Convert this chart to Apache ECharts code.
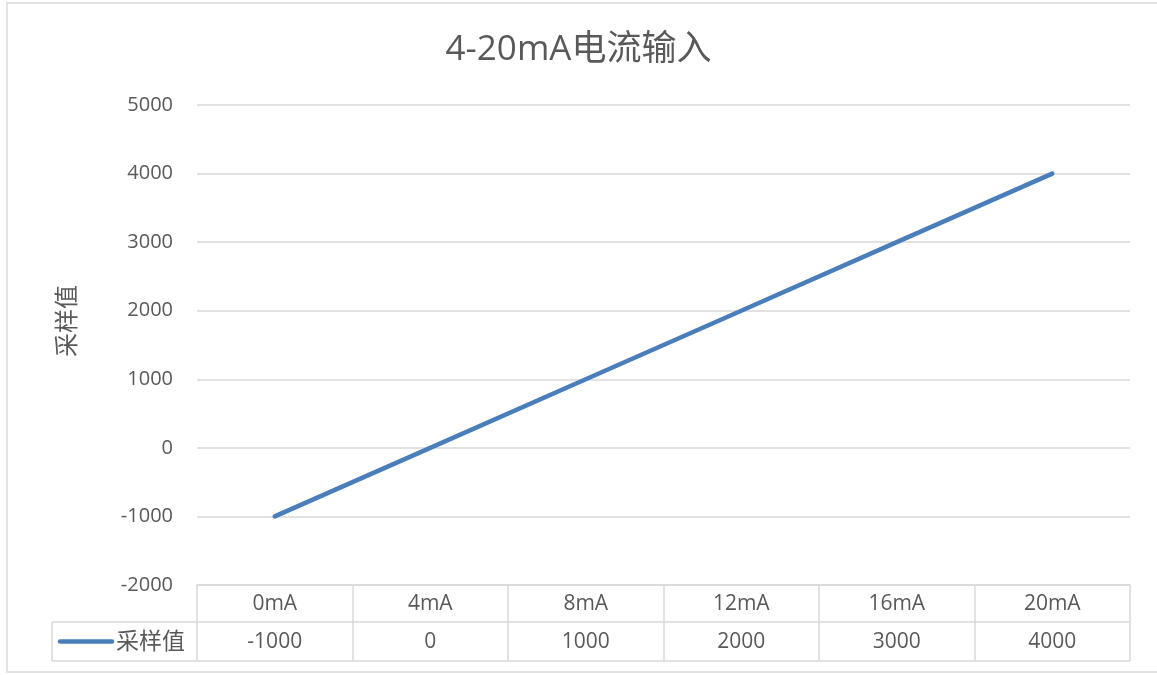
<!DOCTYPE html>
<html>
<head>
<meta charset="utf-8">
<script src="https://cdn.jsdelivr.net/npm/echarts@6/dist/echarts.min.js"></script>
<style>
  html, body { margin: 0; padding: 0; background: #fff; }
  #chart { width: 1157px; height: 675px; }
</style>
</head>
<body>
<div id="chart"></div>
<script>
// Current input levels and the sampled readings for each
const categories = ['0mA', '4mA', '8mA', '12mA', '16mA', '20mA'];
const sampleValues = [-1000, 0, 1000, 2000, 3000, 4000];
const seriesName = '采样值';
const titleText = '4-20mA电流输入';
const yTicks = { min: -2000, max: 5000, step: 1000 };

const FONT = '"Open Sans", "Noto Sans", "Noto Sans CJK SC", sans-serif';
const TEXT = '#595959';
const RULE = '#d9d9d9';
const LINE = '#4a7ebb';

// plot area
const G = { left: 197, right: 27, top: 105, bottom: 90 };
const W = 1157, H = 675;
const rowH1 = 37, rowH2 = 39;         // header row, value row
const legendCellLeft = 52;

const chart = echarts.init(document.getElementById('chart'), null, { renderer: 'canvas' });

const tableTop = H - G.bottom;
const row2Top = tableTop + rowH1;
const row2Bot = row2Top + rowH2;
const plotRight = W - G.right;

chart.setOption({
  animation: false,
  backgroundColor: '#fff',
  title: {
    text: titleText,
    left: 'center',
    top: 28,
    textStyle: { fontFamily: FONT, fontSize: 35, fontWeight: 'normal', color: TEXT }
  },
  grid: { left: G.left, right: G.right, top: G.top, bottom: G.bottom, containLabel: false },
  xAxis: [
    {
      type: 'category',
      data: categories,
      boundaryGap: true,
      axisLine: { show: true, onZero: false, lineStyle: { color: RULE, width: 1.5 } },
      axisTick: { show: true, interval: 0, length: rowH1 + rowH2, lineStyle: { color: RULE, width: 1.5 } },
      axisLabel: { interval: 0, margin: 9, fontFamily: FONT, fontSize: 21, color: TEXT }
    },
    {
      type: 'category',
      position: 'bottom',
      offset: rowH1,
      data: sampleValues.map(v => String(v)),
      boundaryGap: true,
      axisLine: { show: false, onZero: false },
      axisTick: { show: false },
      axisLabel: { interval: 0, margin: 10, fontFamily: FONT, fontSize: 21, color: TEXT }
    }
  ],
  yAxis: {
    type: 'value',
    min: yTicks.min,
    max: yTicks.max,
    interval: yTicks.step,
    axisLine: { show: false },
    axisTick: { show: false },
    axisLabel: { margin: 24, fontFamily: FONT, fontSize: 20, color: TEXT, formatter: v => String(v) },
    splitLine: { lineStyle: { color: RULE, width: 1.5 } }
  },
  series: [{
    name: seriesName,
    type: 'line',
    xAxisIndex: 0,
    data: sampleValues,
    symbol: 'none',
    lineStyle: { color: LINE, width: 4.5, cap: 'round' }
  }],
  graphic: [
    // outer chart frame
    { type: 'rect', silent: true, shape: { x: 7, y: 3, width: W + 10, height: 669 },
      style: { fill: null, stroke: RULE, lineWidth: 1.5 } },
    // data table: value row rules and legend cell
    { type: 'line', silent: true, shape: { x1: legendCellLeft, y1: row2Top, x2: plotRight, y2: row2Top },
      style: { stroke: RULE, lineWidth: 1.5 } },
    { type: 'line', silent: true, shape: { x1: legendCellLeft, y1: row2Bot, x2: plotRight, y2: row2Bot },
      style: { stroke: RULE, lineWidth: 1.5 } },
    { type: 'line', silent: true, shape: { x1: legendCellLeft, y1: row2Top, x2: legendCellLeft, y2: row2Bot },
      style: { stroke: RULE, lineWidth: 1.5 } },
    // legend key inside the table
    { type: 'line', silent: true, shape: { x1: 60, y1: (row2Top + row2Bot) / 2, x2: 112, y2: (row2Top + row2Bot) / 2 },
      style: { stroke: LINE, lineWidth: 4.5, lineCap: 'round' } },
    { type: 'text', silent: true, x: 116, y: (row2Top + row2Bot) / 2 + 1,
      style: { text: seriesName, fontFamily: FONT, fontSize: 23, fill: TEXT, textVerticalAlign: 'middle' } },
    // value axis title
    { type: 'text', silent: true, x: 68, y: 321, rotation: Math.PI / 2,
      style: { text: seriesName, fontFamily: FONT, fontSize: 24, fill: TEXT, textAlign: 'center', textVerticalAlign: 'middle' } }
  ]
});
</script>
</body>
</html>
